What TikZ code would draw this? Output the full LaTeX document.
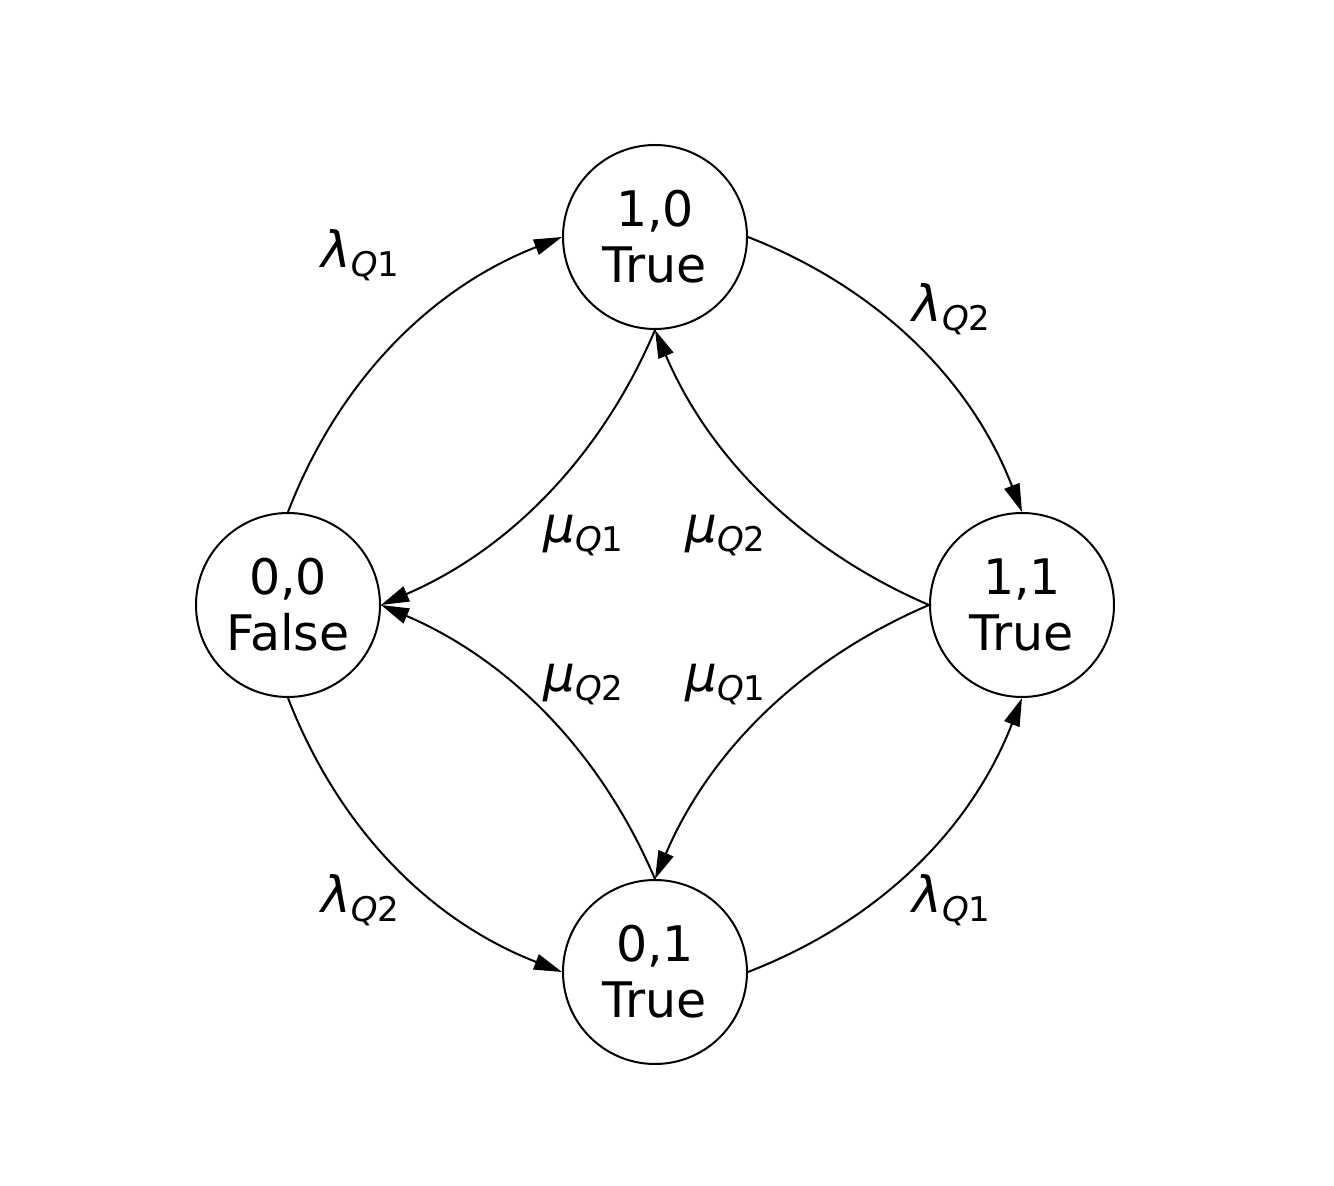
\documentclass[tikz,border=0pt]{standalone}
\usepackage{fontspec}
\setmainfont{DejaVu Sans}
\usetikzlibrary{arrows.meta,calc}
\tikzset{
  stnode/.style={circle, draw, line width=1pt, minimum size=92pt, inner sep=0pt,
    align=center, font=\fontsize{24.5}{28}\selectfont},
  edge/.style={line width=1pt, -{Triangle[length=14pt,width=8pt]}},
  outbend/.style={bend #1=23.75, looseness=0.93},
  inbend/.style={bend #1=21.8, looseness=0.917},
  lab/.style={inner sep=0pt, anchor=base west},
}
\newcommand{\ratelab}[2]{{\fontsize{25}{28}\selectfont\itshape #1}\raisebox{-4.5pt}{\fontsize{17}{19}\selectfont\itshape Q\upshape #2}}
\begin{document}
\begin{tikzpicture}[x=0.5pt,y=-0.5pt]
\useasboundingbox (0,0) rectangle (1334,1186);
\node[stnode] (n10) at (655,237) {1,0\\True};
\node[stnode] (n00) at (288,605) {0,0\\False};
\node[stnode] (n11) at (1022,605) {1,1\\True};
\node[stnode] (n01) at (655,972) {0,1\\True};
% outer edges
\draw[edge] (n00.north) to[outbend=left] (n10.west);
\draw[edge] (n10.east) to[outbend=left] (n11.north);
\draw[edge] (n00.south) to[outbend=right] (n01.west);
\draw[edge] (n01.east) to[outbend=right] (n11.south);
% inner edges
\draw[edge] (n10.south) to[inbend=left] (n00.east);
\draw[edge] (n11.west) to[inbend=left] (n10.south);
\draw[edge] (n01.north) to[inbend=right] (n00.east);
\draw[edge] (n11.west) to[inbend=right] (n01.north);
% labels
\node[lab] (la1) at (321,268) {\ratelab{λ}{1}};
\node[lab] (la2) at (912,322) {\ratelab{λ}{2}};
\node[lab] (la3) at (321,913) {\ratelab{λ}{2}};
\node[lab] (la4) at (912,913) {\ratelab{λ}{1}};
\node[lab] (mu1) at (543,543) {\ratelab{μ}{1}};
\node[lab] (mu2) at (685,543) {\ratelab{μ}{2}};
\node[lab] (mu3) at (543,692) {\ratelab{μ}{2}};
\node[lab] (mu4) at (685,692) {\ratelab{μ}{1}};
\end{tikzpicture}
\end{document}
